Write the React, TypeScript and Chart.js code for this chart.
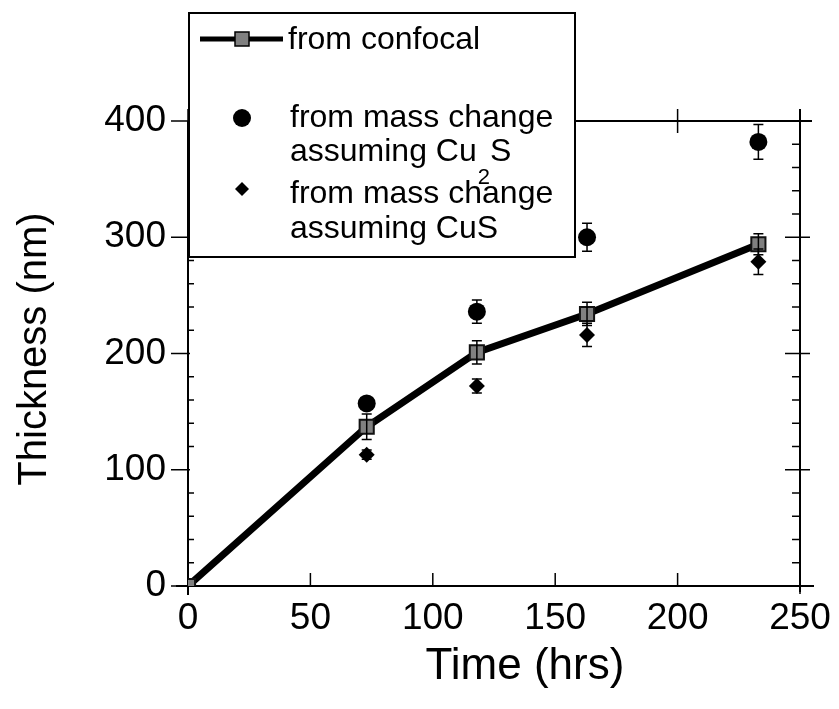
import React, { useEffect, useRef } from 'react';
import { Chart, registerables } from 'chart.js';

Chart.register(...registerables);

// ---- data ----
const timeHrs = [0, 73, 118, 163, 233];
const confocalNm = [0, 137, 201, 234, 294];
const confocalErr = [0, 11, 10, 10, 9];

const massTimeHrs = [73, 118, 163, 233];
const cu2sNm = [157, 236, 300, 382];
const cu2sErr = [5, 10, 12, 15];
const cusNm = [113, 172, 216, 279];
const cusErr = [4, 6, 10, 11];

const xTickValues = [0, 50, 100, 150, 200, 250];
const yTickValues = [0, 100, 200, 300, 400];
const xTitle = 'Time (hrs)';
const yTitle = 'Thickness (nm)';
const legendConfocal = 'from confocal';
const legendMass = 'from mass change';
const legendCu2SPrefix = 'assuming Cu';
const legendCu2SSub = '2';
const legendCu2SSuffix = 'S';
const legendCuS = 'assuming CuS';

const FONT = "'Liberation Sans', Arial, Helvetica, sans-serif";
const GRAY = '#808080';

const framePlugin = {
  id: 'frame',
  beforeDatasetsDraw(chart: any) {
    const { ctx, chartArea: a, scales } = chart;
    const x = scales.x;
    const y = scales.y;
    const seg = (x1: number, y1: number, x2: number, y2: number) => {
      ctx.beginPath();
      ctx.moveTo(x1, y1);
      ctx.lineTo(x2, y2);
      ctx.stroke();
    };
    ctx.save();
    ctx.strokeStyle = '#000';
    ctx.lineWidth = 2;
    seg(a.left, a.bottom + 9, a.left, a.top);
    seg(a.left - 12, a.bottom, a.right + 14, a.bottom);
    seg(a.right, a.bottom + 6, a.right, a.top - 12);
    seg(a.left, a.top, a.right + 12, a.top);
    ctx.lineWidth = 1.5;
    for (let v = 0; v <= 400; v += 20) {
      const py = y.getPixelForValue(v);
      const major = v % 100 === 0;
      if (major) {
        seg(a.left - 17, py, a.left + 2, py);
        seg(a.right - 15, py, a.right + 10, py);
      } else {
        seg(a.left, py, a.left + 6, py);
        seg(a.right - 8, py, a.right, py);
      }
    }
    for (const v of xTickValues) {
      const px = x.getPixelForValue(v);
      seg(px, a.bottom - 13, px, a.bottom + (v === 0 || v === 250 ? 8 : 0));
      seg(px, a.top - 12, px, a.top + 12);
    }
    ctx.restore();
  },
};

const errorBarPlugin = {
  id: 'errorBars',
  afterDatasetsDraw(chart: any) {
    const { ctx, scales } = chart;
    const x = scales.x;
    const y = scales.y;
    const groups = [
      { xs: timeHrs, ys: confocalNm, es: confocalErr },
      { xs: massTimeHrs, ys: cu2sNm, es: cu2sErr },
      { xs: massTimeHrs, ys: cusNm, es: cusErr },
    ];
    ctx.save();
    ctx.strokeStyle = '#000';
    ctx.lineWidth = 1.5;
    for (const g of groups) {
      g.xs.forEach((xv, i) => {
        const e = g.es[i];
        if (!e) return;
        const px = x.getPixelForValue(xv);
        const pTop = y.getPixelForValue(g.ys[i] + e);
        const pBot = y.getPixelForValue(g.ys[i] - e);
        ctx.beginPath();
        ctx.moveTo(px, pTop);
        ctx.lineTo(px, pBot);
        ctx.moveTo(px - 5, pTop);
        ctx.lineTo(px + 5, pTop);
        ctx.moveTo(px - 5, pBot);
        ctx.lineTo(px + 5, pBot);
        ctx.stroke();
      });
    }
    ctx.restore();
  },
};

const titlesPlugin = {
  id: 'titles',
  afterDraw(chart: any) {
    const { ctx } = chart;
    ctx.save();
    ctx.fillStyle = '#000';
    ctx.textAlign = 'center';
    ctx.textBaseline = 'middle';
    ctx.font = `44px ${FONT}`;
    ctx.fillText(xTitle, 525, 667);
    ctx.font = `40px ${FONT}`;
    ctx.translate(35, 349);
    ctx.rotate(-Math.PI / 2);
    ctx.fillText(yTitle, 0, 0);
    ctx.restore();
  },
};

const legendPlugin = {
  id: 'customLegend',
  afterDraw(chart: any) {
    const { ctx } = chart;
    const bx = 189, by = 13, bw = 386, bh = 244;
    ctx.save();
    ctx.fillStyle = '#fff';
    ctx.fillRect(bx, by, bw, bh);
    ctx.strokeStyle = '#000';
    ctx.lineWidth = 2;
    ctx.strokeRect(bx, by, bw, bh);

    const mx = 242;
    // confocal sample
    ctx.lineWidth = 5;
    ctx.beginPath();
    ctx.moveTo(200, 39);
    ctx.lineTo(283, 39);
    ctx.stroke();
    ctx.fillStyle = GRAY;
    ctx.lineWidth = 1.5;
    ctx.fillRect(mx - 7, 32, 14, 14);
    ctx.strokeRect(mx - 7, 32, 14, 14);
    // circle
    ctx.fillStyle = '#000';
    ctx.beginPath();
    ctx.arc(mx, 118, 9, 0, Math.PI * 2);
    ctx.fill();
    // diamond
    ctx.beginPath();
    ctx.moveTo(mx, 182);
    ctx.lineTo(mx + 7, 189);
    ctx.lineTo(mx, 196);
    ctx.lineTo(mx - 7, 189);
    ctx.closePath();
    ctx.fill();

    ctx.textAlign = 'left';
    ctx.textBaseline = 'middle';
    ctx.font = `32px ${FONT}`;
    ctx.fillText(legendConfocal, 288, 40);
    ctx.fillText(legendMass, 290, 118);
    ctx.fillText(legendCu2SPrefix, 290, 152);
    const w = ctx.measureText(legendCu2SPrefix).width;
    ctx.font = `22px ${FONT}`;
    ctx.fillText(legendCu2SSub, 290 + w + 1, 178);
    const sw = ctx.measureText(legendCu2SSub).width;
    ctx.font = `32px ${FONT}`;
    ctx.fillText(legendCu2SSuffix, 290 + w + sw + 1, 152);
    ctx.fillText(legendMass, 290, 194);
    ctx.fillText(legendCuS, 290, 229);
    ctx.restore();
  },
};

export default function App() {
  const canvasRef = useRef<HTMLCanvasElement | null>(null);

  useEffect(() => {
    const canvas = canvasRef.current;
    if (!canvas) return;
    const chart = new Chart(canvas, {
      type: 'scatter',
      data: {
        datasets: [
          {
            label: legendConfocal,
            data: timeHrs.map((t, i) => ({ x: t, y: confocalNm[i] })),
            showLine: true,
            borderColor: '#000',
            borderWidth: 7,
            pointStyle: 'rect',
            pointRadius: 10,
            pointBackgroundColor: GRAY,
            pointBorderColor: '#111',
            pointBorderWidth: 2,
            order: 2,
          },
          {
            label: 'Cu2S',
            data: massTimeHrs.map((t, i) => ({ x: t, y: cu2sNm[i] })),
            pointStyle: 'circle',
            pointRadius: 9,
            pointBackgroundColor: '#000',
            pointBorderColor: '#000',
            pointBorderWidth: 0,
            order: 1,
          },
          {
            label: 'CuS',
            data: massTimeHrs.map((t, i) => ({ x: t, y: cusNm[i] })),
            pointStyle: 'rectRot',
            pointRadius: 8,
            pointBackgroundColor: '#000',
            pointBorderColor: '#000',
            pointBorderWidth: 0,
            order: 1,
          },
        ],
      },
      options: {
        responsive: false,
        animation: false,
        events: [],
        layout: { padding: { top: 121, right: 39, left: 0, bottom: 0 } },
        plugins: {
          legend: { display: false },
          tooltip: { enabled: false },
        },
        scales: {
          x: {
            type: 'linear',
            min: 0,
            max: 250,
            afterBuildTicks: (s: any) => {
              s.ticks = xTickValues.map((v) => ({ value: v }));
            },
            afterFit: (s: any) => {
              s.height = 709 - 586;
              s.paddingLeft = 0;
              s.paddingRight = 0;
            },
            grid: { display: false, drawTicks: false },
            border: { display: false },
            ticks: {
              color: '#000',
              padding: 11,
              maxRotation: 0,
              font: { size: 37, family: FONT },
            },
          },
          y: {
            type: 'linear',
            min: 0,
            max: 400,
            afterBuildTicks: (s: any) => {
              s.ticks = yTickValues.map((v) => ({ value: v }));
            },
            afterFit: (s: any) => {
              s.width = 188;
              s.paddingTop = 0;
              s.paddingBottom = 0;
            },
            grid: { display: false, drawTicks: false },
            border: { display: false },
            ticks: {
              color: '#000',
              padding: 22,
              font: { size: 37, family: FONT },
            },
          },
        },
      },
      plugins: [framePlugin, errorBarPlugin, titlesPlugin, legendPlugin],
    });
    return () => chart.destroy();
  }, []);

  return (
    <div style={{ position: 'fixed', left: 0, top: 0, width: 839, height: 709, background: '#fff' }}>
      <canvas ref={canvasRef} width={839} height={709} style={{ display: 'block' }} />
    </div>
  );
}
